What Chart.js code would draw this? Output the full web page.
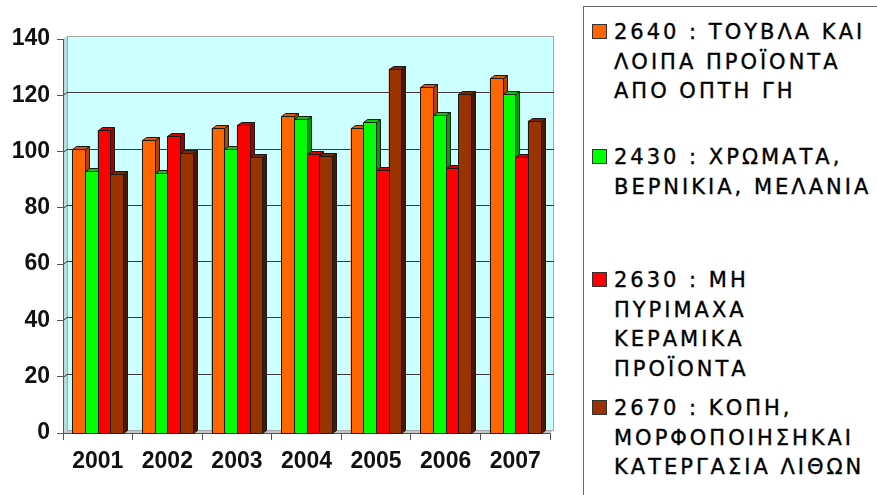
<!DOCTYPE html>
<html>
<head>
<meta charset="utf-8">
<script src="https://cdn.jsdelivr.net/npm/chart.js@4.4.0/dist/chart.umd.min.js"></script>
<style>
  html, body { margin: 0; padding: 0; background: #fff; }
  #wrap { position: relative; width: 877px; height: 495px; overflow: hidden; }
  #chartBox { position: absolute; left: 0; top: 0; width: 583px; height: 495px; }
  #legend {
    position: absolute; left: 583px; top: 6px; width: 310px; height: 500px;
    border-left: 1px solid #6a6a6a; border-top: 1px solid #6a6a6a;
    font-family: 'DejaVu Sans', Verdana, sans-serif; font-size: 21px;
    letter-spacing: 3px; color: #000; -webkit-text-stroke: 0.35px #000;
  }
  .entry { position: absolute; left: 30px; line-height: 29.5px; white-space: nowrap; }
  .swatch {
    position: absolute; left: -22px; top: 6px; width: 15px; height: 15px;
    border: 1px solid #333; box-sizing: border-box;
  }
</style>
</head>
<body>
<div id="wrap">
  <div id="chartBox"><canvas id="chart"></canvas></div>
  <div id="legend"></div>
</div>
<script>
// years on the x axis
const years = ['2001', '2002', '2003', '2004', '2005', '2006', '2007'];

// series values (index)
const bricks = [101, 104, 108.5, 112.5, 108.5, 123, 126];
const paints = [93, 92.5, 101, 111.5, 110.5, 113, 120.5];
const ceramics = [107.5, 105.5, 109.5, 99, 93.5, 94, 98];
const stone = [92, 99.5, 98, 98.5, 129.5, 120.5, 111];

// legend labels, one string per printed line
const bricksLabel = ['2640 : ΤΟΥΒΛΑ ΚΑΙ', 'ΛΟΙΠΑ ΠΡΟΪΟΝΤΑ', 'ΑΠΟ ΟΠΤΗ ΓΗ'];
const paintsLabel = ['2430 : ΧΡΩΜΑΤΑ,', 'ΒΕΡΝΙΚΙΑ, ΜΕΛΑΝΙΑ'];
const ceramicsLabel = ['2630 : ΜΗ', 'ΠΥΡΙΜΑΧΑ', 'ΚΕΡΑΜΙΚΑ', 'ΠΡΟΪΟΝΤΑ'];
const stoneLabel = ['2670 : ΚΟΠΗ,', 'ΜΟΡΦΟΠΟΙΗΣΗΚΑΙ', 'ΚΑΤΕΡΓΑΣΙΑ ΛΙΘΩΝ'];

// y axis ticks
const yTicks = [0, 20, 40, 60, 80, 100, 120, 140];

const DX = 4, DY = 3;   // fake 3D depth offset

const series = [
  { label: bricksLabel, data: bricks, front: '#ff6600', side: '#b04400', top: '#e05800', legendTop: 11 },
  { label: paintsLabel, data: paints, front: '#00ff00', side: '#00a000', top: '#00cc00', legendTop: 136 },
  { label: ceramicsLabel, data: ceramics, front: '#ff0000', side: '#a00000', top: '#d40000', legendTop: 259 },
  { label: stoneLabel, data: stone, front: '#993300', side: '#4a1800', top: '#7a2800', legendTop: 387 }
];

// back wall, side wall, floor and gridlines
const wallPlugin = {
  id: 'wall',
  beforeDraw(chart) {
    const { ctx, chartArea: a } = chart;
    const y = chart.scales.y;
    const l = a.left, r = a.right, t = a.top, b = a.bottom;
    ctx.save();
    // side wall
    ctx.fillStyle = '#b6dcdc';
    ctx.beginPath();
    ctx.moveTo(l, t); ctx.lineTo(l + DX, t - DY); ctx.lineTo(l + DX, b - DY); ctx.lineTo(l, b);
    ctx.closePath(); ctx.fill();
    // floor
    ctx.fillStyle = '#c4c4c4';
    ctx.beginPath();
    ctx.moveTo(l, b); ctx.lineTo(l + DX, b - DY); ctx.lineTo(r + DX, b - DY); ctx.lineTo(r, b);
    ctx.closePath(); ctx.fill();
    // back wall
    ctx.fillStyle = '#ccffff';
    ctx.fillRect(l + DX, t - DY, r - l, b - t);
    ctx.strokeStyle = '#a8a8a8';
    ctx.lineWidth = 1;
    ctx.strokeRect(l + DX + 0.5, t - DY + 0.5, r - l - 1, b - t);
    // gridlines on the wall
    ctx.strokeStyle = '#3a3a3a';
    yTicks.forEach(v => {
      if (v === 0 || v === 140) return;
      const py = Math.round(y.getPixelForValue(v)) + 0.5;
      ctx.beginPath();
      ctx.moveTo(l, py);
      ctx.lineTo(l + DX, py - DY);
      ctx.lineTo(r + DX, py - DY);
      ctx.stroke();
    });
    ctx.restore();
  }
};

// redraw bars left to right with side and top faces
const bar3dPlugin = {
  id: 'bar3d',
  afterDatasetsDraw(chart) {
    const ctx = chart.ctx;
    const metas = chart.getSortedVisibleDatasetMetas().slice().sort((p, q) => p.index - q.index);
    const poly = (pts, fill) => {
      ctx.beginPath();
      ctx.moveTo(pts[0][0], pts[0][1]);
      for (let k = 1; k < pts.length; k++) ctx.lineTo(pts[k][0], pts[k][1]);
      ctx.closePath();
      ctx.fillStyle = fill;
      ctx.fill();
      ctx.stroke();
    };
    ctx.save();
    ctx.lineWidth = 1;
    ctx.strokeStyle = '#1a1a1a';
    for (let i = 0; i < years.length; i++) {
      metas.forEach(meta => {
        const s = series[meta.index];
        const bar = meta.data[i];
        const p = bar.getProps(['x', 'y', 'base', 'width'], true);
        const l = Math.round(p.x - p.width / 2) + 0.5;
        const r = Math.round(p.x + p.width / 2) + 0.5;
        const t = Math.round(p.y) + 0.5;
        const b = Math.round(p.base) + 0.5;
        poly([[l, t], [r, t], [r, b], [l, b]], s.front);
        poly([[r, t], [r + DX, t - DY], [r + DX, b - DY], [r, b]], s.side);
        poly([[l, t], [l + DX, t - DY], [r + DX, t - DY], [r, t]], s.top);
      });
    }
    ctx.restore();
  }
};

const tickFont = { family: "'Liberation Sans', Arial, sans-serif", size: 23, weight: 'bold' };

new Chart(document.getElementById('chart'), {
  type: 'bar',
  data: {
    labels: years,
    datasets: series.map(s => ({
      label: s.label,
      data: s.data,
      backgroundColor: s.front,
      borderWidth: 0,
      categoryPercentage: 0.73,
      barPercentage: 1
    }))
  },
  options: {
    responsive: true,
    maintainAspectRatio: false,
    animation: false,
    layout: { padding: { left: 0, top: 39, right: 33, bottom: 0 } },
    plugins: { legend: { display: false }, tooltip: { enabled: false } },
    scales: {
      x: {
        afterFit(scale) { scale.height = 62; },
        grid: { drawOnChartArea: false, drawTicks: true, tickLength: 7, color: '#555' },
        border: { color: '#555' },
        ticks: { color: '#111', font: tickFont, padding: 8 }
      },
      y: {
        min: 0,
        max: 140,
        afterFit(scale) { scale.width = 63; },
        afterBuildTicks(scale) { scale.ticks = yTicks.map(v => ({ value: v })); },
        grid: { drawOnChartArea: false, drawTicks: true, tickLength: 6, color: '#555' },
        border: { color: '#555' },
        ticks: { color: '#111', font: tickFont, padding: 7 }
      }
    }
  },
  plugins: [wallPlugin, bar3dPlugin]
});

// legend built from the same series
const legend = document.getElementById('legend');
series.forEach(s => {
  const div = document.createElement('div');
  div.className = 'entry';
  div.style.top = s.legendTop + 'px';
  const sw = document.createElement('span');
  sw.className = 'swatch';
  sw.style.background = s.front;
  div.appendChild(sw);
  s.label.forEach((line, k) => {
    if (k) div.appendChild(document.createElement('br'));
    div.appendChild(document.createTextNode(line));
  });
  legend.appendChild(div);
});
</script>
</body>
</html>
